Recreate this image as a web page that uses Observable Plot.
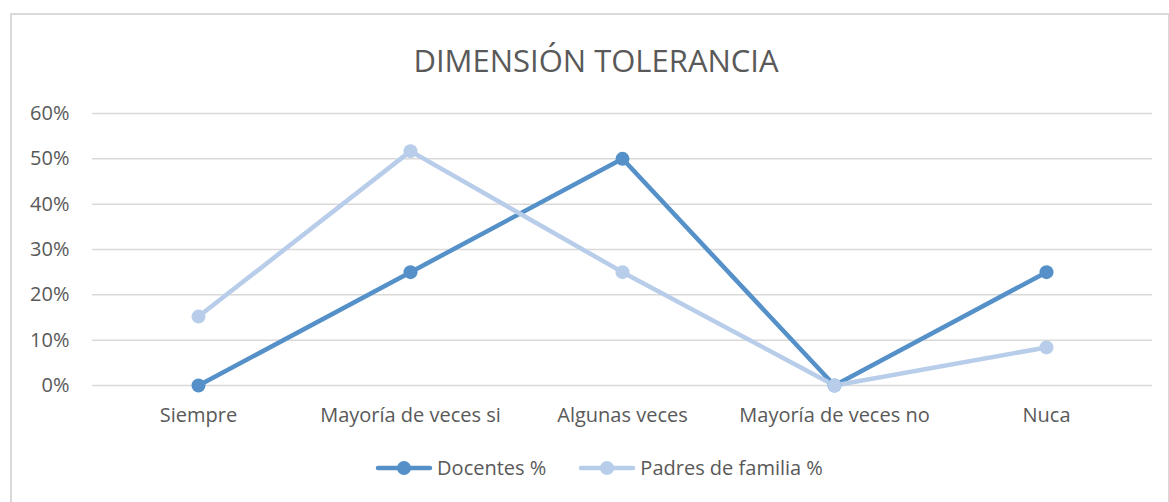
<!DOCTYPE html>
<html>
<head>
<meta charset="utf-8">
<script src="https://cdn.jsdelivr.net/npm/d3@7"></script>
<script src="https://cdn.jsdelivr.net/npm/@observablehq/plot@0.6"></script>
<style>
  html, body { margin: 0; padding: 0; background: #fff; width: 1169px; height: 502px; overflow: hidden; }
  body { font-family: "Open Sans", sans-serif; color: #595959; position: relative; }
  #frame { position: absolute; left: 10px; top: 13px; width: 1160px; height: 520px; border: 2px solid #d9d9d9; box-sizing: border-box; }
  #title { position: absolute; left: 0; top: 38px; width: 1192px; text-align: center; font-size: 31px; line-height: 44px; color: #595959; }
  #chart { position: absolute; left: 0; top: 95px; }
  #legend { position: absolute; left: 0; top: 454px; width: 1198px; display: flex; justify-content: center; align-items: center; font-size: 20px; line-height: 28px; color: #595959; }
  .item { display: flex; align-items: center; margin: 0 16px; }
  .item svg { margin-right: 4px; }
</style>
</head>
<body>
<div id="frame"></div>
<div id="title">DIMENSIÓN TOLERANCIA</div>
<div id="chart"></div>
<div id="legend"></div>
<script>
const categories = ["Siempre", "Mayoría de veces si", "Algunas veces", "Mayoría de veces no", "Nuca"];
const seriesNames = ["Docentes %", "Padres de familia %"];
const docentes = [0, 25, 50, 0, 25];
const padres = [15.2, 51.7, 25, 0, 8.4];
const yTicks = [0, 10, 20, 30, 40, 50, 60];
const colors = ["#5591c8", "#b7cde9"];

const data = [];
[docentes, padres].forEach((vals, s) => {
  vals.forEach((v, i) => data.push({ series: seriesNames[s], cat: categories[i], value: v }));
});

const chart = Plot.plot({
  width: 1169,
  height: 345,
  marginLeft: 92,
  marginRight: 17,
  marginTop: 18,
  marginBottom: 55,
  style: { fontFamily: "'Open Sans', sans-serif", fontSize: "20px", color: "#595959", background: "transparent" },
  x: { type: "point", domain: categories, padding: 0.5, label: null },
  y: { domain: [0, 60], label: null },
  color: { domain: seriesNames, range: colors },
  marks: [
    Plot.gridY(yTicks, { stroke: "#d9d9d9", strokeOpacity: 1, strokeWidth: 1.5 }),
    Plot.axisY(yTicks, { tickSize: 0, tickPadding: 23, tickFormat: d => d + "%", fill: "#595959", fontSize: 20 }),
    Plot.axisX({ tickSize: 0, tickPadding: 22, fill: "#595959", fontSize: 20 }),
    Plot.line(data, { x: "cat", y: "value", z: "series", stroke: "series", strokeWidth: 4.5, strokeLinejoin: "round", strokeLinecap: "round" }),
    Plot.dot(data, { x: "cat", y: "value", fill: "series", r: 7 })
  ]
});
document.getElementById("chart").appendChild(chart);

const legend = document.getElementById("legend");
seriesNames.forEach((name, i) => {
  const item = document.createElement("div");
  item.className = "item";
  item.innerHTML = `<svg width="58" height="16"><line x1="3" y1="8" x2="55" y2="8" stroke="${colors[i]}" stroke-width="4.5" stroke-linecap="round"/><circle cx="29" cy="8" r="7" fill="${colors[i]}"/></svg><span>${name}</span>`;
  legend.appendChild(item);
});
</script>
</body>
</html>
